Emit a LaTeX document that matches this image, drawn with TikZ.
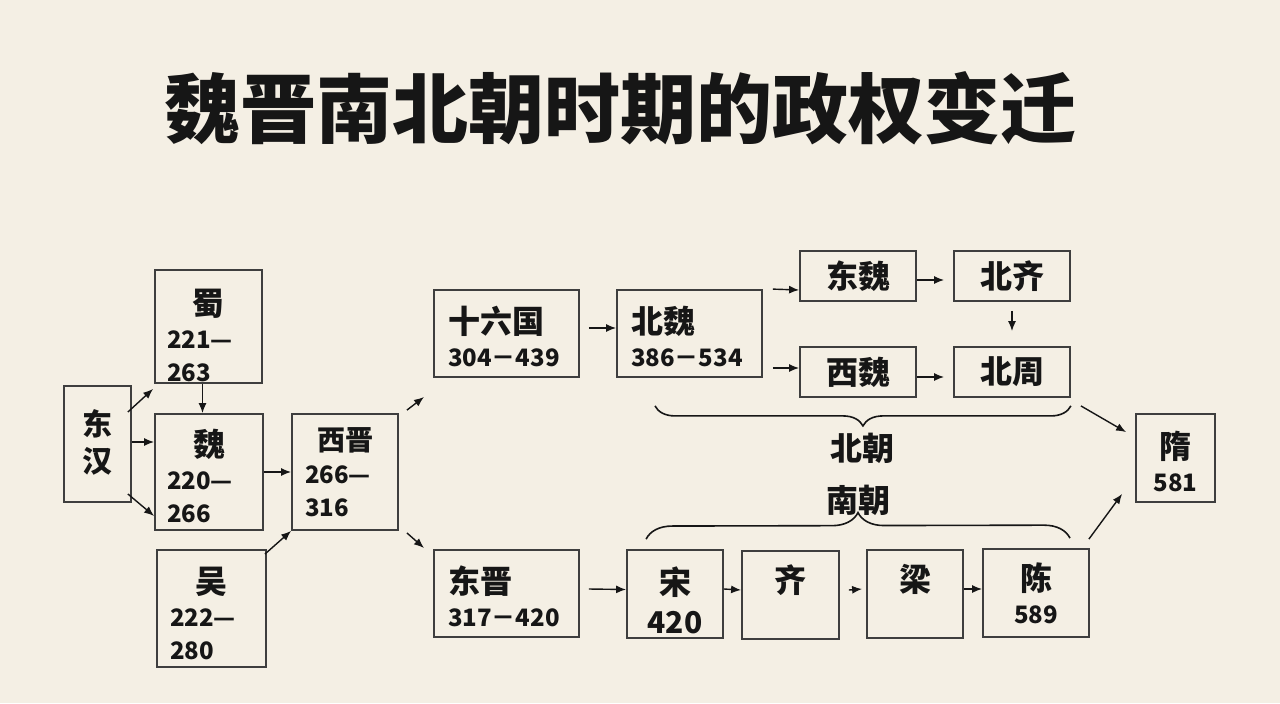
\documentclass[tikz,border=0pt]{standalone}
\usepackage{fontspec}
\setmainfont{Noto Sans CJK SC}
\usetikzlibrary{arrows.meta, positioning, decorations.pathreplacing}
\definecolor{bgpaper}{RGB}{244,239,228}
\definecolor{boxline}{RGB}{62,62,62}
\definecolor{ink}{RGB}{22,22,22}
\newcommand{\zi}{\fontsize{16}{17}\selectfont}
\newcommand{\nian}{\fontsize{12}{16.5}\selectfont}

\begin{document}
\begin{tikzpicture}[
            x=0.5pt, y=-0.5pt,
            box/.style={rectangle, draw=boxline, line width=0.9pt, text=ink, inner sep=0pt, font=\bfseries\nian},
            three/.style={box, align=left, inner xsep=6pt},
            two/.style={box, align=left, inner xsep=7pt, minimum width=72.5pt, minimum height=43.5pt, text width=58.5pt},
            mid/.style={box, align=center, minimum height=44pt},
            flat/.style={box, minimum width=58pt, minimum height=25pt, font=\bfseries\zi},
            arr/.style={->, draw=ink, line width=0.7pt},
            kuohao/.style={decorate, draw=ink, line width=0.8pt},
            >={Latex[length=5pt,width=4pt]}
        ]

        \fill[bgpaper] (0,0) rectangle (1280,703);

        \node[text=ink, font=\bfseries\fontsize{38}{40}\selectfont] (title) at (620,108) {魏晋南北朝时期的政权变迁};

        % san guo
        \node[box, minimum width=33.5pt, minimum height=58pt, align=center, font=\bfseries\fontsize{15}{18.5}\selectfont] (donghan) at (97.5,444) {东\\汉\rule[-3pt]{0pt}{3pt}};
        \node[three, minimum width=53.5pt, minimum height=56.5pt, text width=41.5pt] (shu) at (208.5,326.5) {\makebox[\hsize]{\zi\rule{0pt}{22pt}蜀}\\221—\\263};
        \node[three, minimum width=54pt, minimum height=58pt, text width=42pt] (wei) at (209,472) {\makebox[\hsize]{\zi\rule{0pt}{18pt}魏}\\220—\\266};
        \node[three, minimum width=54.5pt, minimum height=58.5pt, text width=41.5pt, inner xsep=6.5pt] (wu) at (211.5,608.5) {\makebox[\hsize]{\zi\rule{0pt}{18pt}吴}\\222—\\280};
        \node[three, minimum width=53pt, minimum height=58pt, text width=40pt, inner xsep=6.5pt] (xijin) at (345,472) {\makebox[\hsize]{\fontsize{14}{15}\selectfont 西晋}\\266—\\316};

        % north and south
        \node[two] (shiliu) at (506.5,333.5) {{\zi\rule{0pt}{17pt}十六国}\\304－439};
        \node[two] (beiwei) at (689.5,333.5) {{\zi\rule{0pt}{17pt}北魏}\\386－534};
        \node[two] (dongjin) at (506.5,593.5) {{\zi\rule{0pt}{17pt}东晋}\\317－420};

        \node[flat] (dongwei) at (858,276) {东魏};
        \node[flat] (beiqi) at (1012,276) {北齐};
        \node[flat] (xiwei) at (858,372) {西魏};
        \node[flat] (beizhou) at (1012,372) {北周};

        \node[mid, minimum width=48pt, text width=48pt, font=\bfseries\fontsize{15}{19.5}\selectfont] (song) at (675,594) {{\zi\rule{0pt}{20pt}宋}\\420};
        \node[mid, minimum width=48.5pt, text width=48.5pt] (qi) at (790.5,595) {{\zi 齐}\\\mbox{}};
        \node[mid, minimum width=48pt, text width=48pt] (liang) at (915,594) {{\zi 梁}\\\mbox{}};
        \node[mid, minimum width=53pt, text width=53pt] (chen) at (1036,593) {{\zi 陈}\\589};

        \node[mid, minimum width=39.5pt, text width=39.5pt] (sui) at (1175.5,458) {{\zi\rule{0pt}{17pt}隋}\\581};

        \coordinate (toshiliu) at (424,397);
        \coordinate (todongjin) at (424,548);

        \draw[arr] ([xshift=-2pt,yshift=16pt]donghan.east) -- ([xshift=-0.5pt,yshift=-2.5pt]shu.south west);
        \draw[arr] ([yshift=1pt]donghan.east) -- ([yshift=15pt]wei.west);
        \draw[arr] ([xshift=-2pt,yshift=-25pt]donghan.east) -- ([yshift=-22pt]wei.west);
        \draw[arr] ([xshift=-3pt]shu.south) -- ([xshift=-3pt]shu.south |- wei.north);
        \draw[arr] (wei) -- (xijin);
        \draw[arr] ([xshift=-1pt,yshift=-2.5pt]wu.north east) -- (xijin.south west);
        \draw[arr] ([xshift=4pt,yshift=1.5pt]xijin.north east) -- (toshiliu);
        \draw[arr] ([xshift=4pt,yshift=-1pt]xijin.south east) -- (todongjin);

        \draw[arr] ([xshift=4.5pt,yshift=2.75pt]shiliu.east) -- ([yshift=2.75pt]beiwei.west);
        \draw[arr] ([xshift=5pt]beiwei.north east) -- ([yshift=-7pt]dongwei.west);
        \draw[arr] ([xshift=5pt,yshift=-17.25pt]beiwei.east) -- ([yshift=2pt]xiwei.west);
        \draw[arr] ([yshift=-2pt]dongwei.east) -- ([xshift=-4.5pt,yshift=-2pt]beiqi.west);
        \draw[arr] ([yshift=-2.5pt]xiwei.east) -- ([xshift=-4.5pt,yshift=-2.5pt]beizhou.west);
        \draw[arr] ([yshift=-4.5pt]beiqi.south) -- ([yshift=7.5pt]beizhou.north);

        \draw[arr] ([xshift=4.5pt,yshift=2.25pt]dongjin.east) -- ([yshift=2.25pt]song.west);
        \draw[arr] ([yshift=2.5pt]song.east) -- ([yshift=2.5pt]qi.west);
        \draw[arr] ([xshift=4.5pt,yshift=2.5pt]qi.east) -- ([xshift=-2pt,yshift=2.5pt]liang.west);
        \draw[arr] ([yshift=2.5pt]liang.east) -- ([yshift=2pt]chen.west);

        \draw[arr] ([xshift=5pt,yshift=-4pt]beizhou.south east) -- ([xshift=-4.5pt,yshift=-9.5pt]sui.north west);
        \draw[arr] ([xshift=-0.5pt,yshift=4.5pt]chen.north east) -- ([xshift=-6.5pt,yshift=4.5pt]sui.south west);

        % braces
        \draw[kuohao, decoration={brace, mirror, amplitude=10pt}] ([xshift=-17.25pt,yshift=-14pt]beiwei.south) -- ([yshift=-4pt]beizhou.south east) node[midway, yshift=-21pt, text=ink, font=\bfseries\zi] (beichao) {北朝};
        \draw[kuohao, decoration={brace, amplitude=13pt}] ([xshift=10pt,yshift=5pt]song.north west) -- ([xshift=17pt,yshift=5pt]chen.north) node[midway, yshift=19pt, text=ink, font=\bfseries\zi] (nanchao) {南朝};

    \end{tikzpicture}
\end{document}
